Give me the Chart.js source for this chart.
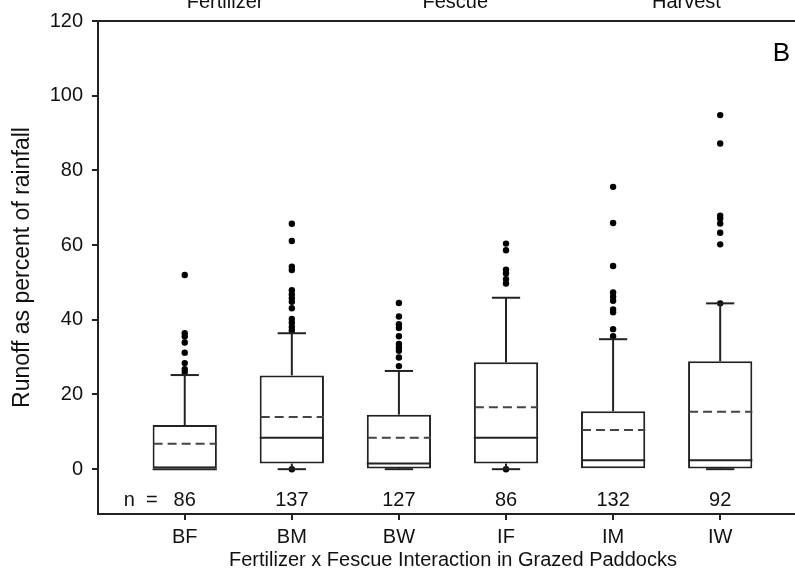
<!DOCTYPE html>
<html>
<head>
<meta charset="utf-8">
<title>Runoff box plot</title>
<script src="https://cdn.jsdelivr.net/npm/chart.js@4.4.1/dist/chart.umd.min.js"></script>
<style>
  html, body { margin: 0; padding: 0; background: #fff; overflow: hidden; width: 795px; height: 573px; }
  canvas { display: block; }
</style>
</head>
<body>
<!-- the figure frame runs a little past the right edge of the window, as in the source -->
<canvas id="chart" width="812" height="573"></canvas>
<script>
'use strict';

// Fertilizer x Fescue groups and sample sizes
const CATEGORIES = ['BF', 'BM', 'BW', 'IF', 'IM', 'IW'];
const N_COUNTS = [86, 137, 127, 86, 132, 92];

// Box statistics (runoff as % of rainfall)
const Q1 = [0, 1.5, 0.2, 1.5, 0, 0.2];
const Q3 = [11.8, 25.1, 14.6, 28.6, 15.5, 28.9];
const MEDIAN = [0, 8.4, 1.5, 8.4, 2.4, 2.4];
const MEAN = [6.8, 14.0, 8.4, 16.6, 10.5, 15.4];
const WHISKER_LOW = [0, 0, 0, 0, 0, 0];
const WHISKER_HIGH = [25.2, 36.4, 26.3, 45.9, 34.8, 44.4];

// Outliers per group
const OUTLIERS_BF = [52.0, 36.4, 35.5, 33.9, 31.2, 28.4, 26.8, 26.0];
const OUTLIERS_BM = [65.7, 61.1, 54.2, 53.3, 47.9, 46.8, 45.8, 44.8, 43.1, 40.2, 39.2, 38.1, 37.1, 0];
const OUTLIERS_BW = [44.5, 40.9, 38.8, 37.8, 35.6, 33.5, 32.5, 31.7, 29.9, 27.6];
const OUTLIERS_IF = [60.4, 58.6, 53.4, 52.4, 50.9, 49.7, 0];
const OUTLIERS_IM = [75.6, 65.9, 54.4, 47.3, 46.2, 45.1, 42.8, 42.0, 37.5, 35.6];
const OUTLIERS_IW = [94.8, 87.2, 67.9, 67.1, 65.8, 63.3, 60.2, 44.4];

const Y_TICKS = [0, 20, 40, 60, 80, 100, 120];

// Labels cut off at the top of the figure (from the panel above)
const HEADER_LABELS = ['Fertilizer', 'Fescue', 'Harvest'];
const HEADER_POS = [1.377, 3.526, 5.685];

const FONT = "'Liberation Sans', Arial, sans-serif";
const INK = '#222';
const TEXT = '#111';

const outlierPoints = [];
[OUTLIERS_BF, OUTLIERS_BM, OUTLIERS_BW, OUTLIERS_IF, OUTLIERS_IM, OUTLIERS_IW].forEach((list, i) => {
  list.forEach((v) => outlierPoints.push({ x: i + 1, y: v }));
});

/**
 * Whiskers, medians and dashed means on top of the floating-bar boxes
 */
const boxPlotLines = {
  id: 'boxPlotLines',
  afterDatasetsDraw(chart) {
    const { ctx, scales: { y } } = chart;
    const bars = chart.getDatasetMeta(0).data;
    ctx.save();
    ctx.strokeStyle = INK;
    ctx.lineWidth = 2;

    const seg = (x1, y1, x2, y2) => {
      ctx.beginPath();
      ctx.moveTo(x1, y1);
      ctx.lineTo(x2, y2);
      ctx.stroke();
    };

    bars.forEach((bar, i) => {
      const cx = bar.x;
      const half = bar.width / 2;
      const cap = bar.width * 0.22;

      // upper whisker
      seg(cx, y.getPixelForValue(Q3[i]), cx, y.getPixelForValue(WHISKER_HIGH[i]));
      seg(cx - cap, y.getPixelForValue(WHISKER_HIGH[i]), cx + cap, y.getPixelForValue(WHISKER_HIGH[i]));

      // lower whisker
      if (WHISKER_LOW[i] < Q1[i]) {
        seg(cx, y.getPixelForValue(Q1[i]), cx, y.getPixelForValue(WHISKER_LOW[i]));
        seg(cx - cap, y.getPixelForValue(WHISKER_LOW[i]), cx + cap, y.getPixelForValue(WHISKER_LOW[i]));
      }

      // median
      seg(cx - half, y.getPixelForValue(MEDIAN[i]), cx + half, y.getPixelForValue(MEDIAN[i]));

      // mean (dashed)
      ctx.save();
      ctx.strokeStyle = '#444';
      ctx.setLineDash([9, 5]);
      seg(cx - half + 1, y.getPixelForValue(MEAN[i]), cx + half, y.getPixelForValue(MEAN[i]));
      ctx.restore();
    });
    ctx.restore();
  },
};

/**
 * Frame top line, sample sizes, panel letter and clipped header labels
 */
const annotations = {
  id: 'annotations',
  afterDraw(chart) {
    const { ctx, chartArea, scales: { x, y } } = chart;
    ctx.save();

    // top frame line
    ctx.strokeStyle = INK;
    ctx.lineWidth = 2;
    ctx.beginPath();
    ctx.moveTo(chartArea.left, chartArea.top);
    ctx.lineTo(chartArea.right, chartArea.top);
    ctx.stroke();

    ctx.fillStyle = TEXT;

    // sample sizes
    ctx.font = `20px ${FONT}`;
    ctx.textAlign = 'center';
    ctx.textBaseline = 'middle';
    const ny = y.getPixelForValue(-8.3);
    N_COUNTS.forEach((n, i) => {
      ctx.fillText(String(n), x.getPixelForValue(i + 1), ny);
    });
    ctx.textAlign = 'right';
    ctx.fillText('n  =', x.getPixelForValue(1) - 27, ny);

    // panel letter
    ctx.font = `26px ${FONT}`;
    ctx.textAlign = 'left';
    ctx.textBaseline = 'alphabetic';
    ctx.fillStyle = '#000';
    ctx.fillText('B', x.getPixelForValue(6.49), chartArea.top + 40);

    // header labels, clipped by the top of the figure
    ctx.fillStyle = TEXT;
    ctx.font = `20px ${FONT}`;
    ctx.textAlign = 'center';
    HEADER_LABELS.forEach((label, i) => {
      ctx.fillText(label, x.getPixelForValue(HEADER_POS[i]), 8);
    });

    ctx.restore();
  },
};

new Chart(document.getElementById('chart'), {
  type: 'bar',
  data: {
    datasets: [
      {
        type: 'bar',
        label: 'IQR',
        data: CATEGORIES.map((c, i) => ({ x: i + 1, y: [Q1[i], Q3[i]] })),
        backgroundColor: '#fff',
        borderColor: INK,
        borderWidth: 2,
        borderSkipped: false,
        barPercentage: 0.6,
        categoryPercentage: 1.0,
        order: 2,
      },
      {
        type: 'scatter',
        label: 'Outliers',
        data: outlierPoints,
        pointRadius: 3.2,
        pointBackgroundColor: '#000',
        pointBorderWidth: 0,
        order: 1,
      },
    ],
  },
  options: {
    responsive: false,
    animation: false,
    layout: { padding: { top: 19, left: 0, right: 0, bottom: 0 } },
    plugins: {
      legend: { display: false },
      tooltip: { enabled: false },
    },
    scales: {
      x: {
        type: 'linear',
        min: 0.19,
        max: 6.82,
        offset: false,
        afterBuildTicks: (axis) => {
          axis.ticks = CATEGORIES.map((c, i) => ({ value: i + 1 }));
        },
        afterFit: (scale) => {
          scale.height = 59;
        },
        grid: {
          offset: false,
          drawOnChartArea: false,
          drawTicks: true,
          tickLength: 6,
          color: INK,
          lineWidth: 2,
        },
        border: { display: true, color: INK, width: 2 },
        ticks: {
          autoSkip: false,
          maxRotation: 0,
          padding: 5,
          color: TEXT,
          font: { family: FONT, size: 20 },
          callback: (value) => CATEGORIES[value - 1],
        },
        title: {
          display: true,
          text: 'Fertilizer x Fescue Interaction in Grazed Paddocks',
          color: TEXT,
          font: { family: FONT, size: 20 },
          padding: { top: 0, bottom: 1 },
        },
      },
      y: {
        min: -12,
        max: 120,
        afterBuildTicks: (axis) => {
          axis.ticks = Y_TICKS.map((v) => ({ value: v }));
        },
        afterFit: (scale) => {
          scale.width = 98;
        },
        grid: {
          drawOnChartArea: false,
          drawTicks: true,
          tickLength: 6,
          color: INK,
          lineWidth: 2,
        },
        border: { display: true, color: INK, width: 2 },
        ticks: {
          padding: 9,
          color: TEXT,
          font: { family: FONT, size: 20 },
        },
        title: {
          display: true,
          text: 'Runoff as percent of rainfall',
          color: TEXT,
          font: { family: FONT, size: 23 },
          padding: { top: 9, bottom: 0 },
        },
      },
    },
  },
  plugins: [boxPlotLines, annotations],
});
</script>
</body>
</html>
